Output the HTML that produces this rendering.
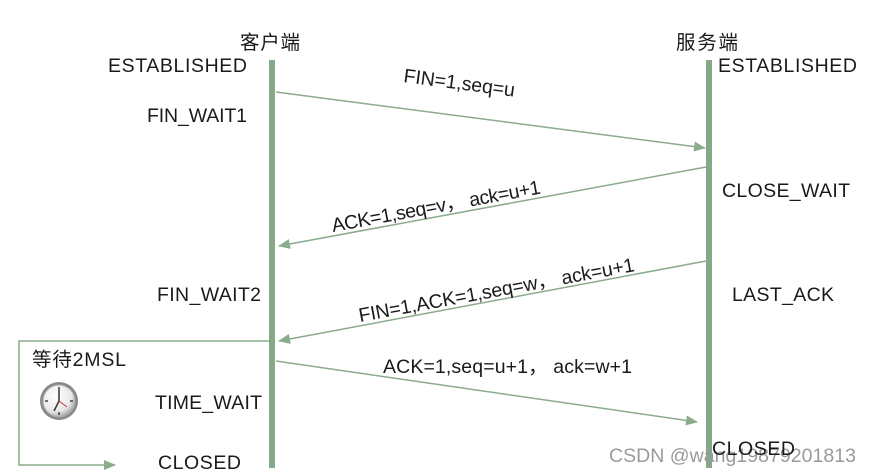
<!DOCTYPE html>
<html><head><meta charset="utf-8"><style>body{margin:0;background:#fff}svg{display:block}</style></head>
<body>
<svg width="872" height="475" viewBox="0 0 872 475" xmlns="http://www.w3.org/2000/svg" font-family="'Liberation Sans','Noto Sans CJK SC',sans-serif" font-size="19.5" fill="#1a1a1a">
<defs>
<marker id="a" markerWidth="12" markerHeight="10" refX="11" refY="5" orient="auto" markerUnits="userSpaceOnUse"><path d="M0,0 L12,5 L0,10 Z" fill="#8aab8c"/></marker>
<radialGradient id="cg" cx="0.4" cy="0.35" r="0.7"><stop offset="0" stop-color="#fff"/><stop offset="0.7" stop-color="#e8e8e8"/><stop offset="1" stop-color="#999"/></radialGradient>
</defs>
<rect x="269" y="60" width="6" height="408" fill="#84a888"/>
<rect x="706" y="60" width="6" height="408" fill="#84a888"/>
<g stroke="#8aab8c" stroke-width="1.5" fill="none">
<line x1="276" y1="92" x2="705" y2="148" marker-end="url(#a)"/>
<line x1="706" y1="167" x2="279" y2="246" marker-end="url(#a)"/>
<line x1="706" y1="261" x2="279" y2="341" marker-end="url(#a)"/>
<line x1="276" y1="361" x2="697" y2="422" marker-end="url(#a)"/>
<polyline points="270,341 19,341 19,465 115,465" marker-end="url(#a)"/>
</g>
<text x="240" y="49" textLength="60">客户端</text>
<text x="676" y="49" textLength="62">服务端</text>
<text x="108" y="72" textLength="139">ESTABLISHED</text>
<text x="718" y="72" textLength="139">ESTABLISHED</text>
<text x="147" y="122" textLength="100">FIN_WAIT1</text>
<text x="722" y="197" textLength="128">CLOSE_WAIT</text>
<text x="157" y="301" textLength="104">FIN_WAIT2</text>
<text x="732" y="301" textLength="102">LAST_ACK</text>
<text x="32" y="366" textLength="94">等待2MSL</text>
<text x="155" y="409" textLength="107">TIME_WAIT</text>
<text x="158" y="469" textLength="83">CLOSED</text>
<text x="609" y="462" fill="#9a9a9a" textLength="247">CSDN @wang19879201813</text>
<text x="712" y="455" textLength="83">CLOSED</text>
<text x="403" y="82" transform="rotate(7.5 403 82)" textLength="112">FIN=1,seq=u</text>
<text x="333" y="232" transform="rotate(-10.5 333 232)" textLength="212">ACK=1,seq=v， ack=u+1</text>
<text x="360" y="322" transform="rotate(-10.5 360 322)" textLength="280">FIN=1,ACK=1,seq=w， ack=u+1</text>
<text x="383" y="373" textLength="249">ACK=1,seq=u+1， ack=w+1</text>
<g transform="translate(59,401)">
<circle r="19" fill="#888"/>
<circle r="16" fill="url(#cg)" stroke="#aaa"/>
<g stroke="#444" stroke-width="1.5">
<line x1="0" y1="-14" x2="0" y2="-11"/><line x1="0" y1="14" x2="0" y2="11"/>
<line x1="-14" y1="0" x2="-11" y2="0"/><line x1="14" y1="0" x2="11" y2="0"/>
</g>
<line x1="0" y1="0" x2="-5" y2="10" stroke="#333" stroke-width="1.5"/>
<line x1="0" y1="0" x2="0" y2="-11" stroke="#333" stroke-width="1.5"/>
<line x1="0" y1="0" x2="8" y2="6" stroke="#c33" stroke-width="1"/>
</g>
</svg>
</body></html>
